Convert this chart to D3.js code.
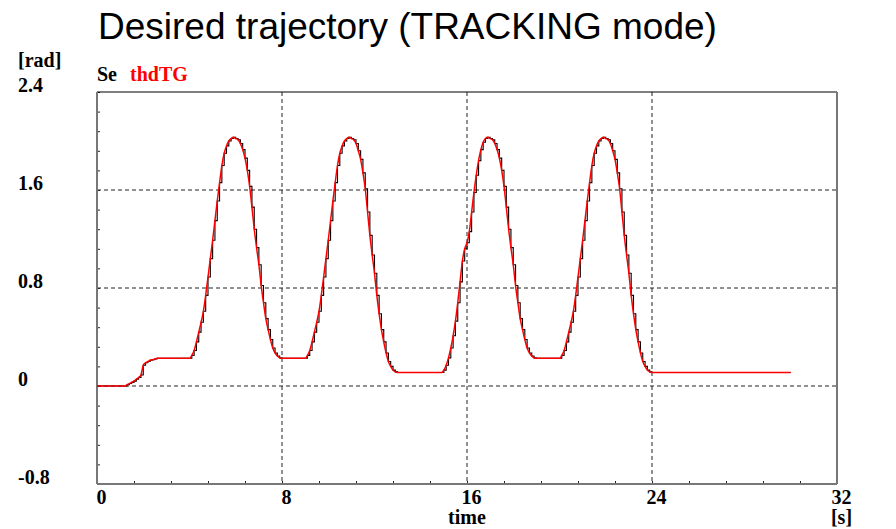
<!DOCTYPE html>
<html>
<head>
<meta charset="utf-8">
<script src="https://cdn.jsdelivr.net/npm/d3@7"></script>
<style>
  html, body { margin:0; padding:0; background:#fff; }
  svg { display:block; }
  .lbl { font-family:"Liberation Serif","Times New Roman",serif; font-weight:bold; font-size:20px; fill:#000; }
  .title { font-family:"Liberation Sans",Arial,sans-serif; font-size:37px; fill:#000; }
</style>
</head>
<body>
<svg id="chart" width="896" height="529"></svg>
<script>
/* ===== Data ===== */
// time [s]
const timeS = [
  0, 1.2, 1.3, 1.4, 1.5, 1.6, 1.7, 1.8, 1.9, 2.0, 2.1, 2.2, 2.3, 2.4, 2.5, 2.6, 4.0,
  4.1, 4.2, 4.3, 4.4, 4.5, 4.6, 4.7, 4.8, 4.9, 5.0, 5.1, 5.2, 5.3, 5.4, 5.5, 5.6, 5.7, 5.8, 5.9, 6.0,
  6.1, 6.2, 6.3, 6.4, 6.5, 6.6, 6.7, 6.8, 6.9, 7.0, 7.1, 7.2, 7.3, 7.4, 7.5, 7.6, 7.7, 7.8, 7.9, 8.0,
  9.0,
  9.1, 9.2, 9.3, 9.4, 9.5, 9.6, 9.7, 9.8, 9.9, 10.0, 10.1, 10.2, 10.3, 10.4, 10.5, 10.6, 10.7, 10.8, 10.9, 11.0,
  11.1, 11.2, 11.3, 11.4, 11.5, 11.6, 11.7, 11.8, 11.9, 12.0, 12.1, 12.2, 12.3, 12.4, 12.5, 12.6, 12.7, 12.8, 12.9, 13.0,
  14.9,
  15.0, 15.1, 15.2, 15.3, 15.4, 15.5, 15.6, 15.7, 15.8, 15.9, 16.0, 16.1, 16.2, 16.3, 16.4, 16.5, 16.6, 16.7, 16.8, 16.9, 17.0,
  17.1, 17.2, 17.3, 17.4, 17.5, 17.6, 17.7, 17.8, 17.9, 18.0, 18.1, 18.2, 18.3, 18.4, 18.5, 18.6, 18.7, 18.8, 18.9, 19.0,
  20.0,
  20.1, 20.2, 20.3, 20.4, 20.5, 20.6, 20.7, 20.8, 20.9, 21.0, 21.1, 21.2, 21.3, 21.4, 21.5, 21.6, 21.7, 21.8, 21.9, 22.0,
  22.1, 22.2, 22.3, 22.4, 22.5, 22.6, 22.7, 22.8, 22.9, 23.0, 23.1, 23.2, 23.3, 23.4, 23.5, 23.6, 23.7, 23.8, 23.9, 24.0,
  30.0
];
// thdTG [rad]
const thdTG = [
  0, 0, 0.01, 0.02, 0.03, 0.04, 0.055, 0.07, 0.09, 0.17, 0.19, 0.20, 0.21, 0.215, 0.22, 0.226, 0.226,
  0.25, 0.29, 0.36, 0.44, 0.52, 0.61, 0.74, 0.89, 1.04, 1.19, 1.35, 1.51, 1.66, 1.80, 1.90, 1.96, 2.00, 2.02, 2.03, 2.02,
  2.01, 1.98, 1.93, 1.86, 1.76, 1.63, 1.46, 1.28, 1.13, 0.99, 0.82, 0.68, 0.55, 0.46, 0.38, 0.31, 0.27, 0.245, 0.23, 0.226,
  0.226,
  0.25, 0.29, 0.36, 0.44, 0.52, 0.61, 0.74, 0.89, 1.04, 1.19, 1.35, 1.51, 1.66, 1.80, 1.90, 1.96, 2.00, 2.02, 2.03, 2.02,
  2.01, 1.98, 1.92, 1.85, 1.74, 1.61, 1.42, 1.23, 1.07, 0.92, 0.74, 0.59, 0.46, 0.36, 0.27, 0.20, 0.16, 0.13, 0.115, 0.11,
  0.11,
  0.13, 0.17, 0.23, 0.31, 0.41, 0.53, 0.68, 0.85, 1.02, 1.12, 1.17, 1.26, 1.42, 1.58, 1.72, 1.84, 1.93, 1.99, 2.02, 2.03, 2.02,
  2.01, 1.98, 1.93, 1.86, 1.76, 1.63, 1.46, 1.28, 1.13, 0.99, 0.82, 0.68, 0.55, 0.46, 0.38, 0.31, 0.27, 0.245, 0.23, 0.226,
  0.226,
  0.25, 0.29, 0.36, 0.44, 0.52, 0.61, 0.74, 0.89, 1.04, 1.19, 1.35, 1.51, 1.66, 1.80, 1.90, 1.96, 2.00, 2.02, 2.03, 2.02,
  2.01, 1.98, 1.92, 1.85, 1.74, 1.61, 1.42, 1.23, 1.07, 0.92, 0.74, 0.59, 0.46, 0.36, 0.27, 0.20, 0.16, 0.13, 0.115, 0.11,
  0.11
];
if (timeS.length !== thdTG.length) throw new Error(`length mismatch ${timeS.length} vs ${thdTG.length}`);

const xTickVals   = [0, 8, 16, 24, 32];
const xTickLabels = ['0', '8', '16', '24', '32'];
const yTickVals   = [2.4, 1.6, 0.8, 0, -0.8];
const yTickLabels = ['2.4', '1.6', '0.8', '0', '-0.8'];
const xGridVals = [8, 16, 24];
const yGridVals = [0, 0.8, 1.6];

/* ===== Layout ===== */
const svg = d3.select('#chart');
const m = {l:97, t:92, r:59, b:45};
const W = 896, H = 529;
const innerW = W - m.l - m.r, innerH = H - m.t - m.b;

const x = d3.scaleLinear().domain([0, 32]).range([m.l, m.l + innerW]);
const y = d3.scaleLinear().domain([-0.8, 2.4]).range([m.t + innerH, m.t]);

/* title */
svg.append('text').attr('class','title').attr('x', 98).attr('y', 39)
  .text('Desired trajectory (TRACKING mode)');

/* grid */
svg.append('g').selectAll('line').data(yGridVals).enter().append('line')
  .attr('x1', x(0)).attr('x2', x(32)).attr('y1', d=>y(d)).attr('y2', d=>y(d))
  .attr('stroke', '#222').attr('stroke-width', 1).attr('stroke-dasharray', '4,3');
svg.append('g').selectAll('line').data(xGridVals).enter().append('line')
  .attr('x1', d=>x(d)).attr('x2', d=>x(d)).attr('y1', y(2.4)).attr('y2', y(-0.8))
  .attr('stroke', '#222').attr('stroke-width', 1).attr('stroke-dasharray', '4,3');

/* minor ticks (inside) */
const yMinor = d3.range(0, 21).map(i => +(-0.8 + i*0.16).toFixed(2));
const xMinor = d3.range(0, 21).map(i => +(i*1.6).toFixed(1));
svg.append('g').attr('transform', `translate(${x(0)},0)`)
  .call(d3.axisRight(y).tickValues(yMinor).tickSize(3).tickFormat(''))
  .call(g => g.select('.domain').remove())
  .selectAll('line').attr('stroke', '#222');
svg.append('g').attr('transform', `translate(0,${y(-0.8)})`)
  .call(d3.axisTop(x).tickValues(xMinor).tickSize(3).tickFormat(''))
  .call(g => g.select('.domain').remove())
  .selectAll('line').attr('stroke', '#222');

/* frame */
svg.append('line').attr('x1', x(0)).attr('x2', x(32)).attr('y1', y(2.4)).attr('y2', y(2.4))
  .attr('stroke', '#000').attr('stroke-width', 1.2);
svg.append('line').attr('x1', x(32)).attr('x2', x(32)).attr('y1', y(2.4)).attr('y2', y(-0.8))
  .attr('stroke', '#777').attr('stroke-width', 2);
svg.append('line').attr('x1', x(0)).attr('x2', x(0)).attr('y1', y(2.4)).attr('y2', y(-0.8))
  .attr('stroke', '#777').attr('stroke-width', 2);
svg.append('line').attr('x1', x(0)).attr('x2', x(32)).attr('y1', y(-0.8)).attr('y2', y(-0.8))
  .attr('stroke', '#777').attr('stroke-width', 2);

/* curves: sampled (held) signal in black, continuous trajectory in red */
const pts = timeS.map((t,i) => [t, thdTG[i]]);
const stepLine = d3.line().x(d=>x(d[0])).y(d=>y(d[1])).curve(d3.curveStepAfter);
const smoothLine = d3.line().x(d=>x(d[0])).y(d=>y(d[1])).curve(d3.curveMonotoneX);
svg.append('path').attr('d', stepLine(pts)).attr('fill','none').attr('stroke','#000').attr('stroke-width',1.1);
svg.append('path').attr('d', smoothLine(pts)).attr('fill','none').attr('stroke','#f00').attr('stroke-width',1.5);

/* labels */
svg.append('g').selectAll('text').data(yTickVals).enter().append('text')
  .attr('class','lbl').attr('x', 18).attr('y', d=>y(d))
  .text((d,i)=>yTickLabels[i]);
svg.append('text').attr('class','lbl').attr('x', 18).attr('y', 67).text('[rad]');

svg.append('g').selectAll('text').data(xTickVals).enter().append('text')
  .attr('class','lbl').attr('x', d=>x(d) + 4.5).attr('y', 504).attr('text-anchor','middle')
  .text((d,i)=>xTickLabels[i]);
svg.append('text').attr('class','lbl').attr('x', x(16)).attr('y', 524).attr('text-anchor','middle').text('time');
svg.append('text').attr('class','lbl').attr('x', x(32) + 4.5).attr('y', 524).attr('text-anchor','middle').text('[s]');

/* legend */
svg.append('text').attr('class','lbl').attr('x', 97).attr('y', 81).text('Se');
svg.append('text').attr('class','lbl').attr('x', 130).attr('y', 81).style('fill','#f00').text('thdTG');
</script>
</body>
</html>
